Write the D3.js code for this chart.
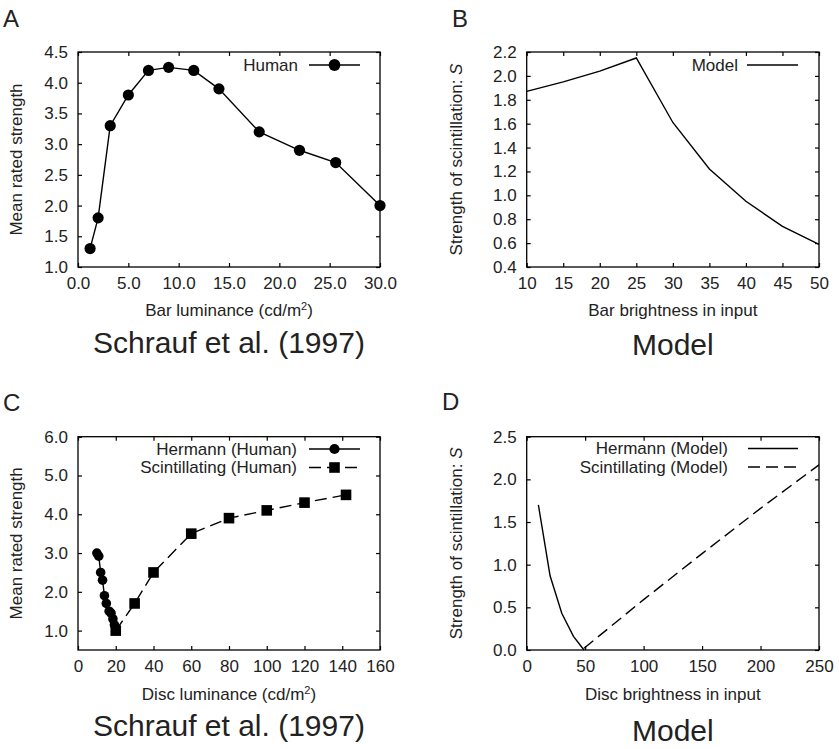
<!DOCTYPE html>
<html>
<head>
<meta charset="utf-8">
<script src="https://cdn.jsdelivr.net/npm/d3@7"></script>
<style>
  html, body { margin: 0; padding: 0; background: #fff; }
  svg { display: block; font-family: "Liberation Sans", Arial, Helvetica, sans-serif; }
  text { fill: #222; }
</style>
</head>
<body>
<svg id="fig" width="839" height="749"></svg>
<script>
// Panel A: human ratings vs bar luminance
const aLuminance = [1.2, 2.0, 3.2, 5.0, 7.0, 9.0, 11.5, 14.0, 18.0, 22.0, 25.6, 30.0];
const aStrength  = [1.3, 1.8, 3.3, 3.8, 4.2, 4.25, 4.2, 3.9, 3.2, 2.9, 2.7, 2.0];
const aXTicks = [0, 5, 10, 15, 20, 25, 30];
const aYTicks = [1.0, 1.5, 2.0, 2.5, 3.0, 3.5, 4.0, 4.5];

// Panel B: model scintillation strength vs bar brightness
const bBrightness = [10, 15, 20, 25, 30, 35, 40, 45, 50];
const bStrength   = [1.87, 1.95, 2.04, 2.15, 1.61, 1.22, 0.95, 0.74, 0.59];
const bXTicks = [10, 15, 20, 25, 30, 35, 40, 45, 50];
const bYTicks = [0.4, 0.6, 0.8, 1.0, 1.2, 1.4, 1.6, 1.8, 2.0, 2.2];

// Panel C: human ratings vs disc luminance
const cHermannLum = [10.0, 11.0, 12.0, 13.0, 14.0, 15.0, 16.5, 17.5, 18.5, 19.3, 20.0];
const cHermannStr = [3.0, 2.92, 2.5, 2.3, 1.9, 1.7, 1.5, 1.45, 1.3, 1.15, 1.0];
const cScintLum = [20, 30, 40, 60, 80, 100, 120, 142];
const cScintStr = [1.0, 1.7, 2.5, 3.5, 3.9, 4.1, 4.3, 4.5];
const cXTicks = [0, 20, 40, 60, 80, 100, 120, 140, 160];
const cYTicks = [1.0, 2.0, 3.0, 4.0, 5.0, 6.0];

// Panel D: model scintillation strength vs disc brightness
const dHermannIn = [10, 20, 30, 40, 49];
const dHermannS  = [1.70, 0.87, 0.43, 0.16, 0.0];
const dScintIn = [49, 100, 150, 200, 250];
const dScintS  = [0.02, 0.59, 1.13, 1.66, 2.17];
const dXTicks = [0, 50, 100, 150, 200, 250];
const dYTicks = [0.0, 0.5, 1.0, 1.5, 2.0, 2.5];

const svg = d3.select("#fig");
const TICK = 4;

function panel(cfg) {
  const g = svg.append("g");
  const x = d3.scaleLinear().domain(cfg.xDomain).range([cfg.left, cfg.right]);
  const y = d3.scaleLinear().domain(cfg.yDomain).range([cfg.bottom, cfg.top]);

  // inward ticks on all four sides, labels on bottom and left only
  const bottom = g.append("g").attr("transform", `translate(0,${cfg.bottom})`)
    .call(d3.axisBottom(x).tickValues(cfg.xTicks).tickFormat(d3.format(cfg.xFmt))
      .tickSizeInner(-TICK).tickSizeOuter(0).tickPadding(10));
  const left = g.append("g").attr("transform", `translate(${cfg.left},0)`)
    .call(d3.axisLeft(y).tickValues(cfg.yTicks).tickFormat(d3.format(cfg.yFmt))
      .tickSizeInner(-TICK).tickSizeOuter(0).tickPadding(10));
  const top = g.append("g").attr("transform", `translate(0,${cfg.top})`)
    .call(d3.axisTop(x).tickValues(cfg.xTicks).tickFormat("")
      .tickSizeInner(-TICK).tickSizeOuter(0));
  const right = g.append("g").attr("transform", `translate(${cfg.right},0)`)
    .call(d3.axisRight(y).tickValues(cfg.yTicks).tickFormat("")
      .tickSizeInner(-TICK).tickSizeOuter(0));
  [bottom, left, top, right].forEach(a => {
    a.select(".domain").remove();
    a.selectAll(".tick line").attr("stroke", "#000").attr("stroke-width", 1.2);
    a.selectAll("text").attr("font-size", 17).attr("fill", "#222")
      .attr("font-family", "Liberation Sans, Arial, sans-serif");
  });

  // frame
  g.append("rect")
    .attr("x", cfg.left).attr("y", cfg.top)
    .attr("width", cfg.right - cfg.left).attr("height", cfg.bottom - cfg.top)
    .attr("fill", "none").attr("stroke", "#000").attr("stroke-width", 1.3);

  // series
  const line = d3.line().x(d => x(d[0])).y(d => y(d[1]));
  cfg.series.forEach(s => {
    const pts = d3.zip(s.xs, s.ys);
    g.append("path").datum(pts)
      .attr("fill", "none").attr("stroke", "#000").attr("stroke-width", 1.4)
      .attr("stroke-dasharray", s.dash || null)
      .attr("d", line);
    if (s.marker === "circle") {
      g.selectAll(null).data(pts).enter().append("circle")
        .attr("cx", d => x(d[0])).attr("cy", d => y(d[1])).attr("r", s.size)
        .attr("fill", "#000");
    } else if (s.marker === "square") {
      g.selectAll(null).data(pts).enter().append("rect")
        .attr("x", d => x(d[0]) - s.size).attr("y", d => y(d[1]) - s.size)
        .attr("width", 2 * s.size).attr("height", 2 * s.size)
        .attr("fill", "#000");
    }
  });

  // legend
  cfg.series.forEach((s, i) => {
    const ly = cfg.legendY + i * 18.5;
    g.append("text").attr("x", cfg.legendTextX).attr("y", ly)
      .attr("text-anchor", "end").attr("dominant-baseline", "central")
      .attr("font-size", 17).text(s.name);
    g.append("line")
      .attr("x1", cfg.legendLine[0]).attr("x2", cfg.legendLine[1])
      .attr("y1", ly).attr("y2", ly)
      .attr("stroke", "#000").attr("stroke-width", 1.4)
      .attr("stroke-dasharray", s.dash || null);
    const mx = (cfg.legendLine[0] + cfg.legendLine[1]) / 2;
    if (s.marker === "circle") {
      g.append("circle").attr("cx", mx).attr("cy", ly).attr("r", s.size + 0.3).attr("fill", "#000");
    } else if (s.marker === "square") {
      g.append("rect").attr("x", mx - s.size).attr("y", ly - s.size)
        .attr("width", 2 * s.size).attr("height", 2 * s.size).attr("fill", "#000");
    }
  });

  // axis titles
  const xt = g.append("text").attr("x", (cfg.left + cfg.right) / 2).attr("y", cfg.xTitleY)
    .attr("text-anchor", "middle").attr("font-size", 17);
  cfg.xTitle(xt);
  const yt = g.append("text")
    .attr("transform", `translate(${cfg.yTitleX},${(cfg.top + cfg.bottom) / 2}) rotate(-90)`)
    .attr("text-anchor", "middle").attr("font-size", 17);
  cfg.yTitle(yt);

  // caption under the panel
  g.append("text").attr("x", (cfg.left + cfg.right) / 2).attr("y", cfg.captionY)
    .attr("text-anchor", "middle").attr("font-size", 30).text(cfg.caption);

  // panel letter
  g.append("text").attr("x", cfg.letterX).attr("y", cfg.letterY)
    .attr("font-size", 24).text(cfg.letter);
}

function luminanceTitle(label) {
  return t => {
    t.append("tspan").text(label + " (cd/m");
    t.append("tspan").attr("font-size", 11).attr("baseline-shift", "super").text("2");
    t.append("tspan").text(")");
  };
}
function plainTitle(label) { return t => t.text(label); }
function strengthTitle(t) {
  t.append("tspan").text("Strength of scintillation: ");
  t.append("tspan").attr("font-style", "italic").text("S");
}

panel({
  letter: "A", letterX: 3, letterY: 27,
  left: 78, right: 380, top: 52, bottom: 267,
  xDomain: [0, 30], yDomain: [1.0, 4.5],
  xTicks: aXTicks, yTicks: aYTicks, xFmt: ".1f", yFmt: ".1f",
  series: [{ name: "Human", xs: aLuminance, ys: aStrength, marker: "circle", size: 5.6 }],
  legendY: 65, legendTextX: 298, legendLine: [309, 360],
  xTitle: luminanceTitle("Bar luminance"), xTitleY: 316,
  yTitle: plainTitle("Mean rated strength"), yTitleX: 22,
  caption: "Schrauf et al. (1997)", captionY: 353
});

panel({
  letter: "B", letterX: 452, letterY: 27,
  left: 526.7, right: 819, top: 52, bottom: 267,
  xDomain: [10, 50], yDomain: [0.4, 2.2],
  xTicks: bXTicks, yTicks: bYTicks, xFmt: "d", yFmt: ".1f",
  series: [{ name: "Model", xs: bBrightness, ys: bStrength }],
  legendY: 65, legendTextX: 738, legendLine: [747, 798],
  xTitle: plainTitle("Bar brightness in input"), xTitleY: 316,
  yTitle: strengthTitle, yTitleX: 462,
  caption: "Model", captionY: 355
});

panel({
  letter: "C", letterX: 3, letterY: 411,
  left: 78, right: 380, top: 436.7, bottom: 650,
  xDomain: [0, 160], yDomain: [0.5, 6.0],
  xTicks: cXTicks, yTicks: cYTicks, xFmt: "d", yFmt: ".1f",
  series: [
    { name: "Hermann (Human)", xs: cHermannLum, ys: cHermannStr, marker: "circle", size: 4.8 },
    { name: "Scintillating (Human)", xs: cScintLum, ys: cScintStr, marker: "square", size: 5.3, dash: "12,6" }
  ],
  legendY: 449, legendTextX: 297, legendLine: [309, 360],
  xTitle: luminanceTitle("Disc luminance"), xTitleY: 700,
  yTitle: plainTitle("Mean rated strength"), yTitleX: 22,
  caption: "Schrauf et al. (1997)", captionY: 736
});

panel({
  letter: "D", letterX: 442, letterY: 410,
  left: 526.7, right: 819, top: 436.7, bottom: 650,
  xDomain: [0, 250], yDomain: [0, 2.5],
  xTicks: dXTicks, yTicks: dYTicks, xFmt: "d", yFmt: ".1f",
  series: [
    { name: "Hermann (Model)", xs: dHermannIn, ys: dHermannS },
    { name: "Scintillating (Model)", xs: dScintIn, ys: dScintS, dash: "12,6" }
  ],
  legendY: 448.5, legendTextX: 728, legendLine: [748, 798],
  xTitle: plainTitle("Disc brightness in input"), xTitleY: 700,
  yTitle: strengthTitle, yTitleX: 462,
  caption: "Model", captionY: 741
});
</script>
</body>
</html>
